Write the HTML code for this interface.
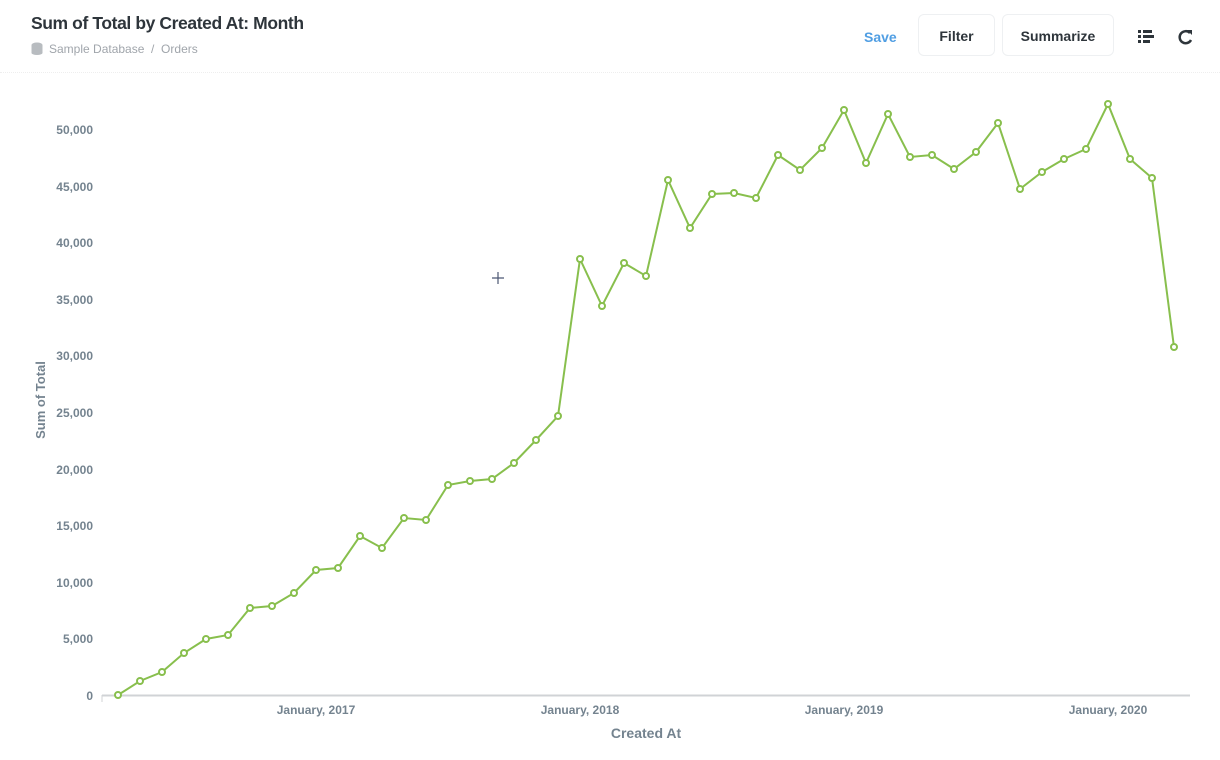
<!DOCTYPE html>
<html><head><meta charset="utf-8"><style>
body{margin:0;width:1220px;height:760px;background:#fff;font-family:"Liberation Sans",sans-serif;overflow:hidden;position:relative}
.t{position:absolute;left:31px;top:13px;font-size:17.5px;color:#2e353b;font-weight:bold;letter-spacing:-0.4px}
.s{position:absolute;left:49px;top:42px;font-size:12px;color:#a0a5ab}
.btn{position:absolute;top:14px;height:42px;border:1px solid #eef0f2;border-radius:6px;box-sizing:border-box;font-size:14px;font-weight:bold;color:#2e353b;line-height:42px;text-align:center}
</style></head><body>
<div class="t">Sum of Total by Created At: Month</div>
<svg style="position:absolute;left:31px;top:42px" width="12" height="13"><ellipse cx="6" cy="3" rx="5.5" ry="2.5" fill="#b8bcc0"/><rect x="0.5" y="3" width="11" height="8" fill="#b8bcc0"/><ellipse cx="6" cy="11" rx="5.5" ry="2" fill="#b8bcc0"/></svg>
<div class="s">Sample Database &nbsp;/&nbsp; Orders</div>
<div style="position:absolute;left:864px;top:29px;font-size:14px;font-weight:bold;color:#509ee3">Save</div>
<div class="btn" style="left:918px;width:77px">Filter</div>
<div class="btn" style="left:1002px;width:112px">Summarize</div>
<svg style="position:absolute;left:1138px;top:29px" width="16" height="14"><g fill="#2e353b"><rect x="0" y="1" width="3" height="3"/><rect x="5" y="1" width="9" height="3"/><rect x="0" y="6" width="3" height="3"/><rect x="5" y="6" width="11" height="3"/><rect x="0" y="11" width="3" height="3"/><rect x="5" y="11" width="7" height="3"/></g></svg>
<svg style="position:absolute;left:1178px;top:29px" width="16" height="16"><path d="M12 4 A6 6 0 1 0 13 11" fill="none" stroke="#2e353b" stroke-width="2.5"/><path d="M9 1 L14 1 L14 6 Z" fill="#2e353b"/></svg>
<div style="position:absolute;left:0;right:0;top:72px;border-top:1px dotted #eee"></div>
<svg style="position:absolute;left:0;top:0" width="1220" height="760">
<g font-family="Liberation Sans,sans-serif" font-size="12" font-weight="bold" fill="#74838f" text-anchor="end">
<text x="93" y="700">0</text><text x="93" y="643">5,000</text><text x="93" y="587">10,000</text><text x="93" y="530">15,000</text><text x="93" y="474">20,000</text><text x="93" y="417">25,000</text><text x="93" y="360">30,000</text><text x="93" y="304">35,000</text><text x="93" y="247">40,000</text><text x="93" y="191">45,000</text><text x="93" y="134">50,000</text>
</g>
<g font-family="Liberation Sans,sans-serif" font-size="12" font-weight="bold" fill="#74838f" text-anchor="middle">
<text x="316" y="714">January, 2017</text><text x="580" y="714">January, 2018</text><text x="844" y="714">January, 2019</text><text x="1108" y="714">January, 2020</text>
<text x="646" y="738" font-size="14">Created At</text>
<text transform="translate(45,400) rotate(-90)" font-size="13">Sum of Total</text>
</g>
<line x1="102" y1="695.5" x2="1190" y2="695.5" stroke="#d0d3d6" stroke-width="2"/>
<line x1="102" y1="695" x2="102" y2="702" stroke="#d0d3d6"/>
<path d="M492 278h12M498 272v12" stroke="#4c5773" stroke-width="1.2"/>
<polyline id="p" fill="none" stroke="#88bf4d" stroke-width="2" points="118,695 140,681 162,672 184,653 206,639 228,635 250,608 272,606 294,593 316,570 338,568 360,536 382,548 404,518 426,520 448,485 470,481 492,479 514,463 536,440 558,416 580,259 602,306 624,263 646,276 668,180 690,228 712,194 734,193 756,198 778,155 800,170 822,148 844,110 866,163 888,114 910,157 932,155 954,169 976,152 998,123 1020,189 1042,172 1064,159 1086,149 1108,104 1130,159 1152,178 1174,347"/>
<g id="dots" fill="#fff" stroke="#88bf4d" stroke-width="2"></g>
</svg>
<script>
var pts=document.getElementById('p').getAttribute('points').split(' '),g=document.getElementById('dots'),h='';
pts.forEach(function(s){var a=s.split(',');h+='<circle cx="'+a[0]+'" cy="'+a[1]+'" r="3"/>';});
g.innerHTML=h;
</script>
</body></html>
